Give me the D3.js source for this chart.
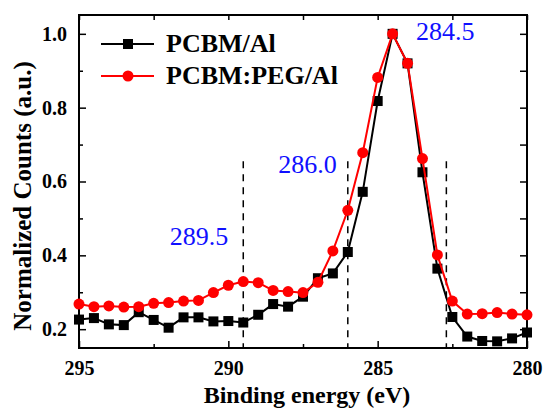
<!DOCTYPE html>
<html>
<head>
<meta charset="utf-8">
<script src="https://cdn.jsdelivr.net/npm/d3@7/dist/d3.min.js"></script>
<style>
  body { margin: 0; background: #fff; }
  svg { display: block; }
  .axis path { display: none; }
  .axis line { stroke: #000; stroke-width: 1.5px; }
</style>
</head>
<body>
<script>
'use-strict';

// binding energies (eV), one point every 0.5 eV
let energies = [295, 294.5, 294, 293.5, 293, 292.5, 292, 291.5, 291, 290.5,
  290, 289.5, 289, 288.5, 288, 287.5, 287, 286.5, 286, 285.5,
  285, 284.5, 284, 283.5, 283, 282.5, 282, 281.5, 281, 280.5, 280];

// normalized counts
let pcbmAl = [0.226, 0.230, 0.213, 0.211, 0.246, 0.225, 0.204, 0.232, 0.232, 0.221,
  0.222, 0.218, 0.239, 0.268, 0.261, 0.288, 0.338, 0.351, 0.409, 0.572,
  0.818, 1.0, 0.920, 0.625, 0.364, 0.233, 0.180, 0.168, 0.167, 0.175, 0.191];
let pcbmPegAl = [0.268, 0.261, 0.263, 0.260, 0.261, 0.270, 0.272, 0.276, 0.278, 0.299,
  0.319, 0.329, 0.326, 0.305, 0.302, 0.299, 0.327, 0.412, 0.522, 0.678,
  0.882, 1.0, 0.920, 0.662, 0.401, 0.276, 0.241, 0.242, 0.245, 0.241, 0.239];

let seriesNames = ["PCBM/Al", "PCBM:PEG/Al"];

// tick values
let xMajorTicks = [295, 290, 285, 280];
let xMinorTicks = [292.5, 287.5, 282.5];
let yMajorTicks = [0.2, 0.4, 0.6, 0.8, 1.0];
let yMinorTicks = [0.3, 0.5, 0.7, 0.9];

// peak markers
let peakLines = [289.5, 286.0, 282.7];
let peakLabels = ["289.5", "286.0", "284.5"];

// margin of the chart
let margin = { top: 15, left: 79, bottom: 61, right: 17 };
let width = 544 - margin.left - margin.right,
  height = 409 - margin.top - margin.bottom;

let serif = "'Liberation Serif', Tinos, 'Times New Roman', Times, 'DejaVu Serif', serif";

let svg = d3.select("body").append("svg")
  .attr("width", 544)
  .attr("height", 409);

let plot = svg.append("g")
  .attr("transform", "translate(" + margin.left + "," + margin.top + ")");

let x = d3.scaleLinear().domain([295, 280]).range([0, width]);
let y = d3.scaleLinear().domain([0.149, 1.051]).range([height, 0]);

// axes, ticks pointing inward
plot.append("g").attr("class", "axis")
  .attr("transform", "translate(0," + height + ")")
  .call(d3.axisBottom(x).tickValues(xMajorTicks).tickSize(-7).tickPadding(13).tickFormat(d3.format("d")));
plot.append("g").attr("class", "axis")
  .attr("transform", "translate(0," + height + ")")
  .call(d3.axisBottom(x).tickValues(xMinorTicks).tickSize(-4).tickFormat(""));
plot.append("g").attr("class", "axis")
  .call(d3.axisTop(x).tickValues(xMajorTicks.concat(xMinorTicks)).tickSize(-5).tickFormat(""));

plot.append("g").attr("class", "axis")
  .call(d3.axisLeft(y).tickValues(yMajorTicks).tickSize(-7).tickPadding(12).tickFormat(d3.format(".1f")));
plot.append("g").attr("class", "axis")
  .call(d3.axisLeft(y).tickValues(yMinorTicks).tickSize(-4).tickFormat(""));
plot.append("g").attr("class", "axis")
  .attr("transform", "translate(" + width + ",0)")
  .call(d3.axisRight(y).tickValues(yMajorTicks.concat(yMinorTicks)).tickSize(-7).tickFormat(""));

// tick label font
plot.selectAll(".axis").attr("font-family", null);
plot.selectAll(".axis text")
  .attr("font-family", serif)
  .attr("font-weight", "bold")
  .attr("font-size", 20)
  .attr("fill", "#000");

// frame
plot.append("rect")
  .attr("width", width)
  .attr("height", height)
  .attr("fill", "none")
  .attr("stroke", "#000")
  .attr("stroke-width", 2);

// dashed peak lines
plot.selectAll(".peak")
  .data(peakLines)
  .enter()
  .append("line")
  .attr("class", "peak")
  .attr("x1", d => x(d))
  .attr("x2", d => x(d))
  .attr("y1", y(0.655))
  .attr("y2", height)
  .attr("stroke", "#000")
  .attr("stroke-width", 1.5)
  .attr("stroke-dasharray", "7,6");

// peak labels
let labelPos = [[290.0, 0.427, "end"], [286.37, 0.622, "end"], [283.72, 0.984, "start"]];
plot.selectAll(".plabel")
  .data(peakLabels)
  .enter()
  .append("text")
  .attr("class", "plabel")
  .attr("x", (d, i) => x(labelPos[i][0]))
  .attr("y", (d, i) => y(labelPos[i][1]))
  .attr("text-anchor", (d, i) => labelPos[i][2])
  .attr("font-family", serif)
  .attr("font-size", 26)
  .attr("fill", "#1010ff")
  .text(d => d);

let line = d3.line()
  .x((d, i) => x(energies[i]))
  .y(d => y(d));

// black series (squares)
plot.append("path")
  .datum(pcbmAl)
  .attr("d", line)
  .attr("fill", "none")
  .attr("stroke", "#000")
  .attr("stroke-width", 2);
plot.selectAll(".sq")
  .data(pcbmAl)
  .enter()
  .append("rect")
  .attr("class", "sq")
  .attr("x", (d, i) => x(energies[i]) - 5)
  .attr("y", d => y(d) - 5)
  .attr("width", 10)
  .attr("height", 10)
  .attr("fill", "#000");

// red series (circles)
plot.append("path")
  .datum(pcbmPegAl)
  .attr("d", line)
  .attr("fill", "none")
  .attr("stroke", "#ff0000")
  .attr("stroke-width", 2);
plot.selectAll(".dot")
  .data(pcbmPegAl)
  .enter()
  .append("circle")
  .attr("class", "dot")
  .attr("cx", (d, i) => x(energies[i]))
  .attr("cy", d => y(d))
  .attr("r", 5.5)
  .attr("fill", "#ff0000");

// legend
let legend = svg.append("g");
let legendY = [44, 76];
seriesNames.forEach((name, i) => {
  let color = i == 0 ? "#000" : "#ff0000";
  legend.append("line")
    .attr("x1", 101).attr("x2", 154)
    .attr("y1", legendY[i]).attr("y2", legendY[i])
    .attr("stroke", color)
    .attr("stroke-width", 2);
  if (i == 0) {
    legend.append("rect")
      .attr("x", 123).attr("y", legendY[i] - 5)
      .attr("width", 10).attr("height", 10)
      .attr("fill", color);
  } else {
    legend.append("circle")
      .attr("cx", 128).attr("cy", legendY[i])
      .attr("r", 5.5)
      .attr("fill", color);
  }
  legend.append("text")
    .attr("x", 166)
    .attr("y", legendY[i] + 8)
    .attr("font-family", serif)
    .attr("font-weight", "bold")
    .attr("font-size", 26)
    .text(name);
});

// axis titles
svg.append("text")
  .attr("x", margin.left + width / 2 + 4)
  .attr("y", 403)
  .attr("text-anchor", "middle")
  .attr("font-family", serif)
  .attr("font-weight", "bold")
  .attr("font-size", 24)
  .text("Binding energy (eV)");

svg.append("text")
  .attr("transform", "translate(31,196) rotate(-90)")
  .attr("text-anchor", "middle")
  .attr("font-family", serif)
  .attr("font-weight", "bold")
  .attr("font-size", 25)
  .text("Normalized Counts (a.u.)");
</script>
</body>
</html>
